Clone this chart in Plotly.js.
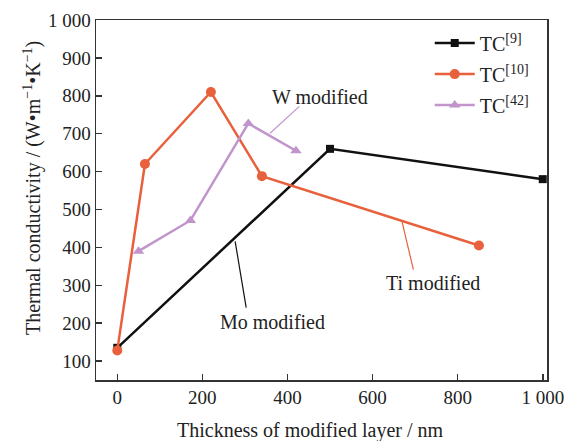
<!DOCTYPE html>
<html><head><meta charset="utf-8">
<script src="https://cdn.plot.ly/plotly-3.0.1.min.js"></script>
<style>html,body{margin:0;padding:0;background:#fff;}#chart{width:578px;height:441px;}</style>
</head><body><div id="chart"></div>
<script>
// Data
const tc9_x = [0, 500, 1000];
const tc9_y = [135, 660, 580];
const tc10_x = [0, 65, 220, 340, 850];
const tc10_y = [128, 620, 810, 588, 405];
const tc42_x = [50, 172, 308, 420];
const tc42_y = [390, 471, 727, 655];
const xTickVals = [0, 200, 400, 600, 800, 1000];
const xTickText = ['0', '200', '400', '600', '800', '1 000'];
const yTickVals = [100, 200, 300, 400, 500, 600, 700, 800, 900, 1000];
const yTickText = ['100', '200', '300', '400', '500', '600', '700', '800', '900', '1 000'];
const seriesNames = ['TC<sup>[9]</sup>', 'TC<sup>[10]</sup>', 'TC<sup>[42]</sup>'];

const FONT = 'Liberation Serif, Times New Roman, serif';
const TXT = '#222222';
const traces = [
  {x: tc9_x, y: tc9_y, name: seriesNames[0], legendgroup: 'a', mode: 'lines+markers',
   line: {color: '#111111', width: 2.5}, marker: {symbol: 'square', size: 8, color: '#111111'}},
  {x: tc10_x, y: tc10_y, name: seriesNames[1], legendgroup: 'b', mode: 'lines+markers',
   line: {color: '#e8603c', width: 2.5}, marker: {symbol: 'circle', size: 10, color: '#e8603c'}},
  {x: tc42_x, y: tc42_y, name: seriesNames[2], legendgroup: 'c', mode: 'lines+markers',
   line: {color: '#c294cc', width: 2.5}, marker: {symbol: 'triangle-up', size: 10, color: '#c294cc'}}
];

const axisCommon = {
  showgrid: false, zeroline: false, showline: true, mirror: true,
  linecolor: '#333333', linewidth: 1.5, ticks: 'inside', ticklen: 6,
  tickcolor: '#333333', tickwidth: 1.5,
  tickfont: {family: FONT, size: 19, color: TXT}
};

const layout = {
  width: 578, height: 441,
  margin: {l: 96, r: 31, t: 20, b: 61},
  paper_bgcolor: '#ffffff', plot_bgcolor: '#ffffff',
  showlegend: true,
  legend: {x: 0.74, y: 0.99, xanchor: 'left', yanchor: 'top', bgcolor: 'rgba(0,0,0,0)',
           font: {family: FONT, size: 20, color: TXT}, itemwidth: 40, tracegroupgap: 2},
  xaxis: Object.assign({}, axisCommon, {
    range: [-50, 1010], tickvals: xTickVals, ticktext: xTickText
  }),
  yaxis: Object.assign({}, axisCommon, {
    range: [50, 1000], tickvals: yTickVals, ticktext: yTickText
  }),
  annotations: [
    {xref: 'paper', yref: 'paper', x: 0.4745, y: -0.139, xanchor: 'center', yanchor: 'middle',
     text: 'Thickness of modified layer / nm', showarrow: false, font: {family: FONT, size: 20, color: TXT}},
    {xref: 'paper', yref: 'paper', x: -0.142, y: 0.533, xanchor: 'center', yanchor: 'middle', textangle: -90,
     text: 'Thermal conductivity / (W\u2022m<sup>\u22121</sup>\u2022K<sup>\u22121</sup>)', showarrow: false,
     font: {family: FONT, size: 20, color: TXT}},
    {x: 477, y: 797, xref: 'x', yref: 'y', text: 'W modified', showarrow: false, font: {family: FONT, size: 20, color: TXT}},
    {x: 364, y: 204, xref: 'x', yref: 'y', text: 'Mo modified', showarrow: false, font: {family: FONT, size: 20, color: TXT}},
    {x: 743, y: 305, xref: 'x', yref: 'y', text: 'Ti modified', showarrow: false, font: {family: FONT, size: 20, color: TXT}}
  ],
  shapes: [
    {type: 'line', xref: 'x', yref: 'y', x0: 359, y0: 701, x1: 428, y1: 772, line: {color: '#c294cc', width: 1.2}},
    {type: 'line', xref: 'x', yref: 'y', x0: 277, y0: 416, x1: 303, y1: 241, line: {color: '#111111', width: 1.2}},
    {type: 'line', xref: 'x', yref: 'y', x0: 669, y0: 469, x1: 696, y1: 341, line: {color: '#e8603c', width: 1.2}}
  ]
};

Plotly.newPlot('chart', traces, layout, {displayModeBar: false, staticPlot: true});
</script></body></html>
